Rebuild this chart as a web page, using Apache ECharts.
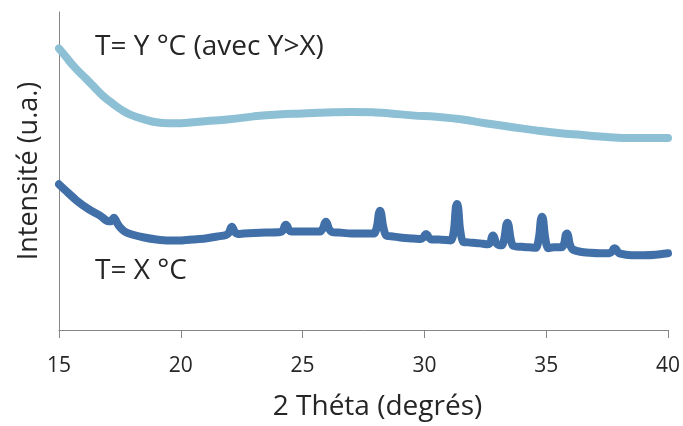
<!DOCTYPE html>
<html>
<head>
<meta charset="utf-8">
<script src="https://cdn.jsdelivr.net/npm/echarts@6/dist/echarts.min.js"></script>
<style>
html,body{margin:0;padding:0;background:#fff;}
#chart{width:683px;height:426px;}
</style>
</head>
<body>
<div id="chart"></div>
<script>
// X values (2 Théta, degrés) and intensities (arbitrary units)
const xTicks = [15, 20, 25, 30, 35, 40];

const lowTempX = [15.0, 15.3, 15.7, 16.2, 16.7, 17.02, 17.14, 17.21, 17.26, 17.31, 17.38, 17.5, 17.7, 18.0, 18.5, 19.0, 19.5, 20.0, 20.5, 21.0, 21.5, 21.86, 21.98, 22.05, 22.1, 22.15, 22.22, 22.34, 22.6, 23.0, 23.5, 24.08, 24.2, 24.27, 24.32, 24.37, 24.44, 24.56, 25.0, 25.4, 25.72, 25.84, 25.91, 25.96, 26.01, 26.08, 26.2, 26.5, 27.0, 27.5, 27.93, 28.06, 28.13, 28.18, 28.23, 28.3, 28.43, 28.7, 29.0, 29.5, 29.85, 29.96, 30.02, 30.07, 30.12, 30.18, 30.29, 30.6, 31.09, 31.22, 31.29, 31.34, 31.39, 31.46, 31.59, 31.8, 32.3, 32.6, 32.71, 32.77, 32.82, 32.87, 32.93, 33.04, 33.18, 33.29, 33.36, 33.41, 33.46, 33.53, 33.64, 34.0, 34.3, 34.58, 34.71, 34.78, 34.83, 34.88, 34.95, 35.08, 35.3, 35.62, 35.74, 35.8, 35.85, 35.9, 35.96, 36.08, 36.4, 36.8, 37.2, 37.6, 37.71, 37.77, 37.82, 37.87, 37.93, 38.04, 38.5, 39.0, 39.5, 40.0];
const lowTempY = [148, 141, 132, 123, 116, 110.5, 110.5, 113, 114, 112.5, 109, 104.5, 100, 97, 94, 92, 91, 91, 92, 93, 95, 96.5, 99, 103.5, 105, 103, 99.5, 97.5, 98, 98.5, 99, 99.5, 101.5, 106, 107, 105.5, 101.5, 100, 100, 100, 100, 103.5, 108.5, 110, 108, 103, 99.5, 99, 98, 98, 98, 106, 118.5, 121, 118, 106, 96, 95, 94, 93, 92.5, 94, 96.5, 97.5, 96.5, 94, 92, 92, 91, 103, 124.5, 128, 124, 103, 89.5, 89, 88, 87, 89, 94.5, 96, 94, 89, 86.5, 86, 94, 106.5, 109, 106, 94, 85.5, 84.5, 84, 83.5, 95, 112, 115, 111.5, 95, 83, 84, 84, 88, 96.5, 98, 96, 88, 82, 79.5, 78.5, 78, 78, 80, 82.5, 83, 82, 79.5, 77.5, 76, 76, 76.5, 78];

const highTempX = [15.0, 15.3, 15.6, 16.0, 16.4, 16.8, 17.2, 17.6, 18.0, 18.5, 19.0, 19.5, 20.0, 20.5, 21.0, 22.0, 23.0, 24.0, 25.0, 26.0, 27.0, 28.0, 28.6, 29.5, 30.5, 31.5, 32.5, 33.5, 34.5, 35.5, 36.5, 37.5, 38.5, 39.5, 40.0];
const highTempY = [286, 277, 268, 258, 248, 238, 230, 223, 218, 214, 211, 210, 210, 211, 212, 214, 217, 219, 220, 221, 221.5, 221, 220, 218, 216.5, 214, 210, 206.5, 203, 200, 198, 196, 195, 195, 195];

const seriesNames = ['T= X °C', 'T= Y °C (avec Y>X)'];
const xTitle = '2 Théta (degrés)';
const yTitle = 'Intensité (u.a.)';

function pairs(xs, ys) { return xs.map((x, i) => [x, ys[i]]); }

const chart = echarts.init(document.getElementById('chart'), null, {renderer: 'canvas'});
const FONT = '"Open Sans", sans-serif';
chart.setOption({
  animation: false,
  backgroundColor: '#ffffff',
  grid: {left: 59, right: 15, top: 12, bottom: 91, containLabel: false},
  xAxis: {
    type: 'value', min: 15, max: 40, interval: 5,
    name: xTitle, nameLocation: 'middle', nameGap: 63,
    nameTextStyle: {fontFamily: FONT, fontSize: 28, color: '#262626', padding: [0, 0, 0, 28]},
    axisLine: {show: true, lineStyle: {color: '#868686', width: 1}},
    axisTick: {show: true, inside: false, length: 8, lineStyle: {color: '#868686'}},
    axisLabel: {show: true, margin: 26, fontFamily: FONT, fontSize: 21, color: '#262626',
      formatter: v => xTicks.includes(v) ? String(v) : ''},
    splitLine: {show: false}
  },
  yAxis: {
    type: 'value', min: 0, max: 323,
    name: yTitle, nameLocation: 'middle', nameGap: 16, nameRotate: 90,
    nameTextStyle: {fontFamily: FONT, fontSize: 27, color: '#262626'},
    axisLine: {show: true, lineStyle: {color: '#868686', width: 1}},
    axisTick: {show: false},
    axisLabel: {show: false},
    splitLine: {show: false}
  },
  series: [
    {
      name: seriesNames[1], type: 'line', showSymbol: false, smooth: 0.5,
      data: pairs(highTempX, highTempY),
      lineStyle: {color: '#8DC0D5', width: 8, cap: 'round', join: 'round'}
    },
    {
      name: seriesNames[0], type: 'line', showSymbol: false, smooth: 0.25,
      data: pairs(lowTempX, lowTempY),
      lineStyle: {color: '#416FA8', width: 8, cap: 'round', join: 'round'}
    }
  ],
  graphic: [
    {type: 'text', left: 95, top: 33, style: {text: seriesNames[1], fontFamily: FONT, fontSize: 28, fill: '#262626'}},
    {type: 'text', left: 95, top: 257, style: {text: seriesNames[0], fontFamily: FONT, fontSize: 28, fill: '#262626'}}
  ]
});
</script>
</body>
</html>
